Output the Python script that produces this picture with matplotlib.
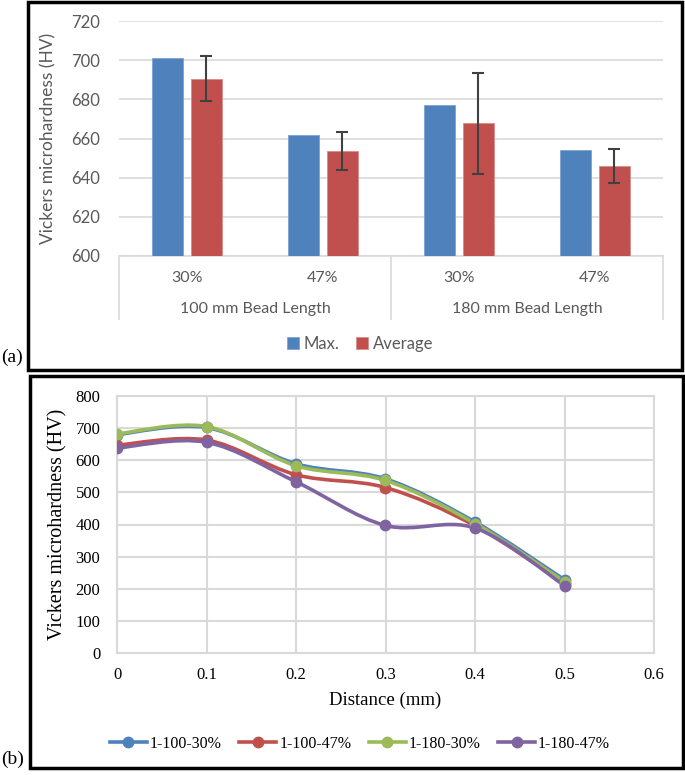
import numpy as np
import matplotlib
matplotlib.use("Agg")
import matplotlib.pyplot as plt
from matplotlib.patches import Rectangle, PathPatch
from matplotlib.path import Path
from matplotlib.lines import Line2D
from matplotlib.transforms import blended_transform_factory

# ---- data: panel (a)
bar_labels = ["30%", "47%", "30%", "47%"]
group_labels = ["100 mm Bead Length", "180 mm Bead Length"]
max_vals = [701, 662, 677, 654]
avg_vals = [690.5, 653.7, 667.8, 646.0]
avg_err = [11.5, 9.6, 25.8, 8.6]

# ---- data: panel (b)
distance = [0, 0.1, 0.2, 0.3, 0.4, 0.5]
s_100_30 = [680, 702, 589, 542, 408, 228]
s_100_47 = [647, 663, 555, 515, 396, 216]
s_180_30 = [682, 705, 583, 537, 403, 222]
s_180_47 = [638, 656, 533, 397, 389, 210]
series_names = ["1-100-30%", "1-100-47%", "1-180-30%", "1-180-47%"]

W, H = 685, 775
fig = plt.figure(figsize=(W / 100, H / 100), dpi=100)


def px_rect(x0, y0, x1, y1):
    # pixel box (top-left origin) -> figure fraction [l, b, w, h]
    return [x0 / W, 1 - y1 / H, (x1 - x0) / W, (y1 - y0) / H]


# outer frames
for (x0, y0, x1, y1) in [(28, 2, 682, 370), (30, 376, 683, 768)]:
    l, b, w, h = px_rect(x0, y0, x1, y1)
    fig.patches.append(Rectangle((l, b), w, h, transform=fig.transFigure,
                                 fill=False, edgecolor="black", linewidth=2.5))
fig.text(1 / W, 1 - 366 / H, "(a)", family="Liberation Serif", fontsize=14, va="bottom")
fig.text(1 / W, 1 - 768 / H, "(b)", family="Liberation Serif", fontsize=14, va="bottom")

# ---------------- panel (a)
sans = "Lato"
grey_txt = "#595959"
grid_c = "#d9d9d9"
ax1 = fig.add_axes(px_rect(119, 21, 663, 256))
x = np.arange(len(max_vals))
off = 0.143
bw = 0.23
ax1.bar(x - off, [v - 600 for v in max_vals], bw, bottom=600, color="#4F81BD",
        edgecolor="#7ea3d3", linewidth=0.6, label="Max.", zorder=3)
ax1.bar(x + off, [v - 600 for v in avg_vals], bw, bottom=600, color="#C0504D",
        edgecolor="#d88b89", linewidth=0.6, label="Average", zorder=3)
ax1.errorbar(x + off, avg_vals, yerr=avg_err, fmt="none", ecolor="#404040",
             elinewidth=1.5, capsize=4, capthick=1.5, zorder=4)
ax1.set_xlim(-0.5, 3.5)
ax1.set_ylim(600, 720)
ax1.set_yticks(range(600, 721, 20))
ax1.tick_params(axis="y", length=0, pad=14, labelsize=12, labelcolor=grey_txt)
for t in ax1.get_yticklabels():
    t.set_family(sans)
ax1.set_xticks([])
ax1.grid(axis="y", color=grid_c, linewidth=1.2, zorder=0)
for s in ["top", "right", "left"]:
    ax1.spines[s].set_visible(False)
ax1.spines["bottom"].set_color("#e6d4d8")
ax1.spines["bottom"].set_linewidth(1.2)
ax1.set_ylabel("Vickers microhardness (HV)", family=sans, fontsize=12.5,
               color=grey_txt, labelpad=10)

tr = blended_transform_factory(ax1.transData, ax1.transAxes)
for xi, lab in zip(x, bar_labels):
    ax1.text(xi, -0.094, lab, transform=tr, ha="center", va="center",
             family=sans, fontsize=11.5, color=grey_txt)
for gi, lab in enumerate(group_labels):
    ax1.text(2 * gi + 0.5, -0.226, lab, transform=tr, ha="center", va="center",
             family=sans, fontsize=11.5, color=grey_txt)
for xs in [-0.5, 1.5, 3.5]:
    ax1.plot([xs, xs], [0, -0.268], transform=tr, color=grid_c, lw=1.2, clip_on=False)

leg1 = fig.legend(handles=ax1.containers[:2], labels=["Max.", "Average"],
                  loc="center", bbox_to_anchor=(360 / W, 1 - 344 / H), ncol=2,
                  frameon=False, prop={"family": sans, "size": 12},
                  handlelength=0.7, handleheight=0.7, handletextpad=0.3,
                  columnspacing=1.0)
for t in leg1.get_texts():
    t.set_color(grey_txt)

# ---------------- panel (b)
serif = "Liberation Serif"
ax2 = fig.add_axes(px_rect(117, 396, 654, 653))
colors = ["#4F81BD", "#C0504D", "#9BBB59", "#8064A2"]
all_series = [s_100_30, s_100_47, s_180_30, s_180_47]


def smooth_path(xs, ys):
    # Bezier through the points, Catmull-Rom style control points (like Excel's smoothed line)
    p = np.column_stack([xs, ys]).astype(float)
    n = len(p)
    verts = [p[0]]
    codes = [Path.MOVETO]
    for i in range(n - 1):
        p0 = p[i - 1] if i > 0 else p[i]
        p3 = p[i + 2] if i + 2 < n else p[i + 1]
        c1 = p[i] + (p[i + 1] - p0) / 6
        c2 = p[i + 1] - (p3 - p[i]) / 6
        verts += [c1, c2, p[i + 1]]
        codes += [Path.CURVE4] * 3
    return Path(verts, codes)


for ys, c in zip(all_series, colors):
    ax2.add_patch(PathPatch(smooth_path(distance, ys), fill=False, edgecolor=c,
                            linewidth=2.6, zorder=3, capstyle="round"))
    ax2.plot(distance, ys, "o", color=c, markersize=7.5, zorder=4)

ax2.set_xlim(0, 0.6)
ax2.set_ylim(0, 800)
ax2.set_xticks(np.arange(0, 0.61, 0.1))
ax2.set_xticklabels(["0", "0.1", "0.2", "0.3", "0.4", "0.5", "0.6"])
ax2.set_yticks(range(0, 801, 100))
ax2.tick_params(length=0, labelsize=12)
ax2.tick_params(axis="x", pad=10)
ax2.tick_params(axis="y", pad=12)
for t in ax2.get_xticklabels() + ax2.get_yticklabels():
    t.set_family(serif)
ax2.grid(True, color=grid_c, linewidth=1.5, zorder=0)
for s in ax2.spines.values():
    s.set_color(grid_c)
    s.set_linewidth(1.5)
ax2.set_xlabel("Distance (mm)", family=serif, fontsize=13.5, labelpad=6)
ax2.set_ylabel("Vickers microhardness (HV)", family=serif, fontsize=14.5, labelpad=6)

handles = [Line2D([], [], color=c, lw=2.6, marker="o", markersize=7.5) for c in colors]
fig.legend(handles=handles, labels=series_names, loc="center",
           bbox_to_anchor=(360 / W, 1 - 744 / H), ncol=4, frameon=False,
           prop={"family": serif, "size": 11.5}, handlelength=2.3,
           handletextpad=0.2, columnspacing=1.1)

fig.savefig("out.png", dpi=100)
